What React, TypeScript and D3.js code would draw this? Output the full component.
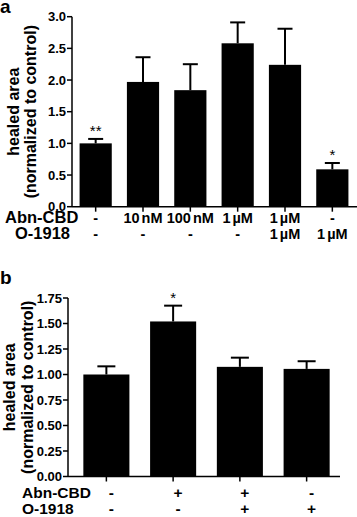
import React from "react";
import * as d3 from "d3";

const catsA = ["c1", "c2", "c3", "c4", "c5", "c6"];
const abnA = ["-", "10 nM", "100 nM", "1 µM", "1 µM", "-"];
const o1918A = ["-", "-", "-", "-", "1 µM", "1 µM"];
const meansA = [1.0, 1.97, 1.84, 2.58, 2.24, 0.59];
const semA = [0.07, 0.39, 0.41, 0.33, 0.57, 0.1];
const starsA = ["**", "", "", "", "", "*"];
const ticksA = [0, 0.5, 1.0, 1.5, 2.0, 2.5, 3.0];

const catsB = ["d1", "d2", "d3", "d4"];
const abnB = ["-", "+", "+", "-"];
const o1918B = ["-", "-", "+", "+"];
const meansB = [1.0, 1.52, 1.075, 1.055];
const semB = [0.08, 0.155, 0.09, 0.075];
const starsB = ["", "*", "", ""];
const ticksB = [0, 0.25, 0.5, 0.75, 1.0, 1.25, 1.5, 1.75];

const FONT = "'Liberation Sans', Arial, Helvetica, sans-serif";

type PanelProps = {
  cats: string[];
  means: number[];
  sem: number[];
  stars: string[];
  ticks: number[];
  fmt: (v: number) => string;
  row1: string[];
  row2: string[];
  axisX: number;
  xRange: [number, number];
  axisEnd: number;
  y0: number;
  y1: number;
  yMax: number;
  pad: number;
  cap: number;
  row1Y: number;
  row2Y: number;
  rowNameX: number;
  rowName2X: number;
  rowNameSize: number;
  valSize: number;
  valOffset: number;
  wordSpacing: number;
  titleX1: number;
  titleX2: number;
};

function Panel(p: PanelProps) {
  const x = d3.scaleBand<string>().domain(p.cats).range(p.xRange).paddingInner(p.pad).paddingOuter(p.pad / 2);
  const y = d3.scaleLinear().domain([0, p.yMax]).range([p.y0, p.y1]);
  const bw = x.bandwidth();
  const midY = (p.y0 + p.y1) / 2;
  return (
    <g fontFamily={FONT} fontWeight="bold" fill="#000">
      {p.cats.map((c, i) => {
        const cx = (x(c) as number) + bw / 2;
        const top = y(p.means[i]);
        const et = y(p.means[i] + p.sem[i]);
        return (
          <g key={c}>
            <rect x={x(c)} y={top} width={bw} height={p.y0 - top} fill="#000" />
            <line x1={cx} x2={cx} y1={top} y2={et} stroke="#000" strokeWidth={2} />
            <line x1={cx - p.cap / 2} x2={cx + p.cap / 2} y1={et} y2={et} stroke="#000" strokeWidth={2} />
            {p.stars[i] ? (
              <text x={cx} y={et - 3} textAnchor="middle" fontSize={15} fontWeight="normal">
                {p.stars[i]}
              </text>
            ) : null}
            <line x1={cx} x2={cx} y1={p.y0} y2={p.y0 + 5} stroke="#000" strokeWidth={1.5} />
            <text x={cx + p.valOffset} y={p.row1Y} textAnchor="middle" fontSize={p.valSize} wordSpacing={p.wordSpacing}>
              {p.row1[i]}
            </text>
            <text x={cx + p.valOffset} y={p.row2Y} textAnchor="middle" fontSize={p.valSize} wordSpacing={p.wordSpacing}>
              {p.row2[i]}
            </text>
          </g>
        );
      })}
      <line x1={p.axisX} x2={p.axisX} y1={y(p.yMax)} y2={p.y0} stroke="#000" strokeWidth={1.5} />
      <line x1={p.axisX} x2={p.axisEnd} y1={p.y0} y2={p.y0} stroke="#000" strokeWidth={1.5} />
      {p.ticks.map((t) => (
        <g key={t}>
          <line x1={p.axisX - 5} x2={p.axisX} y1={y(t)} y2={y(t)} stroke="#000" strokeWidth={1.5} />
          <text x={p.axisX - 6} y={y(t)} dy="0.35em" textAnchor="end" fontSize={13}>
            {p.fmt(t)}
          </text>
        </g>
      ))}
      <text x={p.rowNameX} y={p.row1Y} fontSize={p.rowNameSize}>Abn-CBD</text>
      <text x={p.rowName2X} y={p.row2Y} fontSize={p.rowNameSize}>O-1918</text>
      <text transform={`translate(${p.titleX1},${midY}) rotate(-90)`} textAnchor="middle" fontSize={16}>
        healed area
      </text>
      <text transform={`translate(${p.titleX2},${midY}) rotate(-90)`} textAnchor="middle" fontSize={16}>
        (normalized to control)
      </text>
    </g>
  );
}

export default function App() {
  const fmtA = d3.format(".1f");
  const fmtB = d3.format(".2f");
  return (
    <svg width={357} height={517} style={{ position: "absolute", left: 0, top: 0, background: "#fff" }}>
      <rect width={357} height={517} fill="#fff" />
      <text x={0} y={13} fontFamily={FONT} fontWeight="bold" fontSize={19}>a</text>
      <text x={0} y={284} fontFamily={FONT} fontWeight="bold" fontSize={19}>b</text>
      <Panel
        cats={catsA}
        means={meansA}
        sem={semA}
        stars={starsA}
        ticks={ticksA}
        fmt={fmtA}
        row1={abnA}
        row2={o1918A}
        axisX={72}
        xRange={[72, 356]}
        axisEnd={357}
        y0={206.7}
        y1={16.7}
        yMax={3}
        pad={0.32}
        cap={15}
        row1Y={223}
        row2Y={239}
        rowNameX={5}
        rowName2X={15}
        rowNameSize={16.5}
        valSize={14.5}
        valOffset={0}
        wordSpacing={-2}
        titleX1={19}
        titleX2={36}
      />
      <Panel
        cats={catsB}
        means={meansB}
        sem={semB}
        stars={starsB}
        ticks={ticksB}
        fmt={fmtB}
        row1={abnB}
        row2={o1918B}
        axisX={68}
        xRange={[73, 340]}
        axisEnd={340}
        y0={476.5}
        y1={298}
        yMax={1.75}
        pad={0.31}
        cap={18}
        row1Y={498}
        row2Y={514}
        rowNameX={22}
        rowName2X={22}
        rowNameSize={15.5}
        valSize={15.5}
        valOffset={5}
        wordSpacing={0}
        titleX1={15}
        titleX2={33}
      />
    </svg>
  );
}
